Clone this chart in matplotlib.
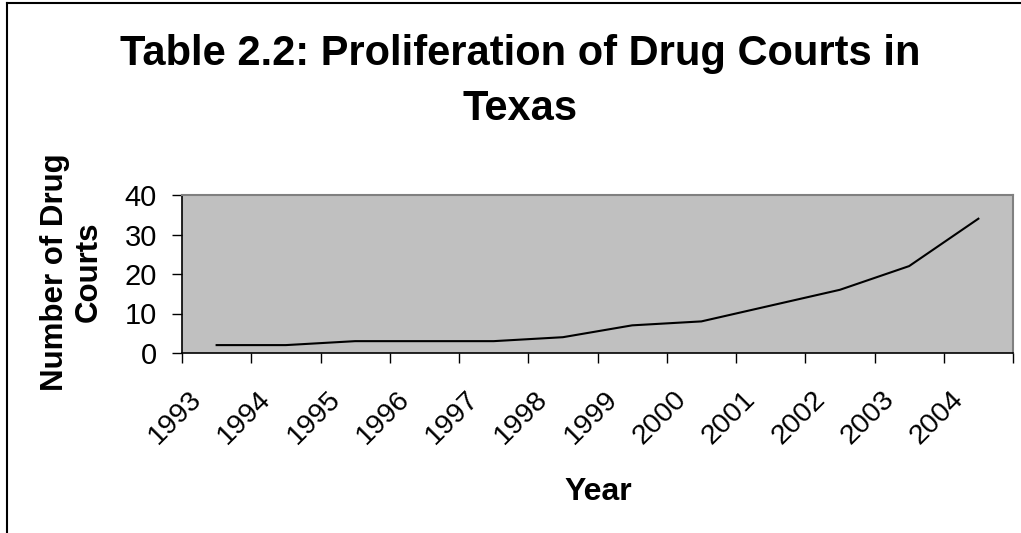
import numpy as np
import matplotlib.pyplot as plt
import matplotlib.transforms as mtransforms
from matplotlib.lines import Line2D

years = ['1993', '1994', '1995', '1996', '1997', '1998',
         '1999', '2000', '2001', '2002', '2003', '2004']
courts = [2, 2, 3, 3, 3, 4, 7, 8, 12, 16, 22, 34]

plt.rcParams['font.family'] = ['Liberation Sans', 'DejaVu Sans']

W, H = 1021, 533
fig = plt.figure(figsize=(W / 100, H / 100), dpi=100)
ax = fig.add_axes([182 / W, 1 - 353 / H, 831 / W, 158 / H])

x = np.arange(len(years))
ax.plot(x, courts, color='black', lw=1.5)

ax.set_facecolor('#c0c0c0')
ax.set_xlim(-0.5, len(years) - 0.5)
ax.set_ylim(0, 40)
ax.set_yticks([0, 10, 20, 30, 40])
ax.tick_params(axis='y', labelsize=21, length=7, width=1, direction='out', pad=11)

# tick marks on category borders, labels in the middle
ax.set_xticks(x)
ax.set_xticklabels(years, rotation=45, ha='right', va='top', rotation_mode='anchor', fontsize=20.5)
ax.tick_params(axis='x', which='major', length=0, pad=24)
ax.set_xticks(np.arange(-0.5, len(years)), minor=True)
ax.tick_params(axis='x', which='minor', length=7, width=1, direction='out')
shift = mtransforms.ScaledTranslation(-28 / 100, 0, fig.dpi_scale_trans)
for lbl in ax.get_xticklabels():
    lbl.set_transform(lbl.get_transform() + shift)

for s in ['top', 'right']:
    ax.spines[s].set_color('#808080')
    ax.spines[s].set_linewidth(1.5)
for s in ['left', 'bottom']:
    ax.spines[s].set_color('black')
    ax.spines[s].set_linewidth(1.2)

# axis titles
fig.text(598 / W, 1 - 500 / H, 'Year', ha='center', va='baseline', fontsize=23, fontweight='bold')
fig.text(72 / W, 1 - 272 / H, 'Number of Drug\nCourts', ha='center', va='center', rotation=90,
         fontsize=22.5, fontweight='bold', linespacing=1.15)

# chart title
fig.text(520 / W, 1 - 65 / H, 'Table 2.2: Proliferation of Drug Courts in',
         ha='center', va='baseline', fontsize=30, fontweight='bold')
fig.text(520 / W, 1 - 120 / H, 'Texas',
         ha='center', va='baseline', fontsize=30, fontweight='bold')

# frame on the left and top edges
fig.lines.append(Line2D([6.5 / W, 6.5 / W], [0, 1 - 2.5 / H], transform=fig.transFigure, color='black', lw=1.5))
fig.lines.append(Line2D([6.5 / W, 1], [1 - 2.5 / H, 1 - 2.5 / H], transform=fig.transFigure, color='black', lw=1.5))

fig.savefig('out.png', dpi=100)
